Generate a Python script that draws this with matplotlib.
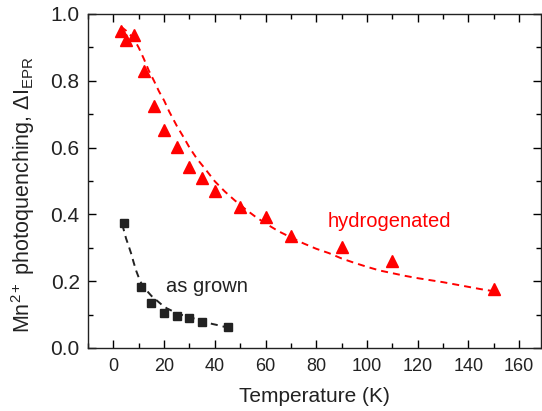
import numpy as np
import matplotlib
matplotlib.use('Agg')
import matplotlib.pyplot as plt
from matplotlib.ticker import MultipleLocator

plt.rcParams['font.family'] = ['Liberation Sans', 'DejaVu Sans']
plt.rcParams['mathtext.fontset'] = 'custom'
plt.rcParams['mathtext.rm'] = 'Liberation Sans'
plt.rcParams['mathtext.it'] = 'Liberation Sans'

# hydrogenated sample (red triangles)
hyd_T = [3, 5, 8, 12, 16, 20, 25, 30, 35, 40, 50, 60, 70, 90, 110, 150]
hyd_I = [0.950, 0.922, 0.937, 0.830, 0.725, 0.653, 0.603, 0.541, 0.508,
         0.471, 0.421, 0.391, 0.335, 0.303, 0.261, 0.178]

# as grown sample (black squares)
grown_T = [4, 11, 15, 20, 25, 30, 35, 45]
grown_I = [0.373, 0.184, 0.134, 0.104, 0.096, 0.089, 0.079, 0.062]

# fit curves
fit_hyd_T = [3, 5, 8, 10, 12, 14, 16, 18, 20, 22, 25, 28, 30, 33, 36, 40, 44,
             48, 52, 56, 60, 65, 70, 75, 80, 85, 90, 95, 100, 105, 110, 115,
             120, 125, 130, 135, 140, 145, 150]
fit_hyd_I = [0.962, 0.950, 0.927, 0.899, 0.866, 0.830, 0.800, 0.768, 0.741,
             0.708, 0.665, 0.627, 0.600, 0.566, 0.538, 0.499, 0.468, 0.441,
             0.416, 0.393, 0.373, 0.350, 0.331, 0.313, 0.297, 0.284, 0.268,
             0.255, 0.243, 0.232, 0.224, 0.216, 0.209, 0.203, 0.197, 0.190,
             0.183, 0.176, 0.170]

fit_grown_T = [3.5, 5, 6, 7, 8, 9, 10, 11, 12, 13, 15, 17, 19, 21, 24, 27,
               30, 33, 36, 39, 42, 45]
fit_grown_I = [0.370, 0.328, 0.306, 0.283, 0.256, 0.231, 0.211, 0.194, 0.182,
               0.173, 0.156, 0.143, 0.130, 0.119, 0.108, 0.099, 0.092, 0.086,
               0.078, 0.072, 0.067, 0.061]

fig = plt.figure(figsize=(5.42, 4.11), dpi=100)
ax = fig.add_axes([0.1624, 0.1533, 0.8357, 0.8127])

ax.plot(fit_hyd_T, fit_hyd_I, color='#ff0000', lw=1.4, dashes=(3.6, 2.6))
ax.plot(fit_grown_T, fit_grown_I, color='#222222', lw=1.4, dashes=(3.6, 2.6))
ax.plot(hyd_T, hyd_I, '^', color='#ff0000', ms=8.5, mec='#ff0000', ls='none')
ax.plot(grown_T, grown_I, 's', color='#222222', ms=6, mec='#222222', ls='none')

ax.text(84.3, 0.363, 'hydrogenated', color='#ff0000', fontsize=14.5)
ax.text(20.7, 0.169, 'as grown', color='#222222', fontsize=14.5)

ax.set_xlim(-10, 168.6)
ax.set_ylim(0, 1.0)
ax.xaxis.set_major_locator(MultipleLocator(20))
ax.xaxis.set_minor_locator(MultipleLocator(10))
ax.yaxis.set_major_locator(MultipleLocator(0.2))
ax.yaxis.set_minor_locator(MultipleLocator(0.1))
ax.yaxis.set_major_formatter(plt.FormatStrFormatter('%.1f'))
ax.tick_params(which='both', direction='in', top=True, right=True,
               labelcolor='#222222', width=1)
ax.tick_params(which='major', length=6)
ax.tick_params(which='minor', length=3.5)
ax.tick_params(axis='x', labelsize=13, pad=7)
ax.tick_params(axis='y', labelsize=15, pad=6)
for s in ax.spines.values():
    s.set_linewidth(1.0)
    s.set_color('#222222')

ax.set_xlabel('Temperature (K)', fontsize=15, color='#222222', labelpad=9)
ax.set_ylabel(r'Mn$^{2+}$ photoquenching, $\Delta$I$_{\rm EPR}$',
              fontsize=15.5, color='#222222')
ax.yaxis.set_label_coords(-0.112, 0.46)

fig.savefig('out.png', dpi=100)
